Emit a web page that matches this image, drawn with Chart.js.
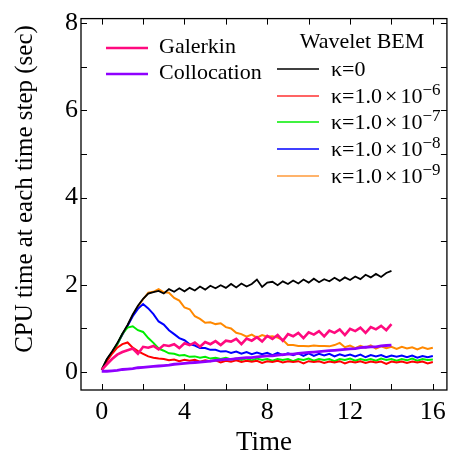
<!DOCTYPE html>
<html>
<head>
<meta charset="utf-8">
<script src="https://cdn.jsdelivr.net/npm/chart.js@4"></script>
<style>
  body { margin: 0; background: #fff; }
  canvas { display: block; }
</style>
</head>
<body>
<canvas id="grafico" width="453" height="457"></canvas>
<script>
// Tempo (passo 0.25)
const tempo16 = [0,0.25,0.5,0.75,1,1.25,1.5,1.75,2,2.25,2.5,2.75,3,3.25,3.5,3.75,4,4.25,4.5,4.75,5,5.25,5.5,5.75,6,6.25,6.5,6.75,7,7.25,7.5,7.75,8,8.25,8.5,8.75,9,9.25,9.5,9.75,10,10.25,10.5,10.75,11,11.25,11.5,11.75,12,12.25,12.5,12.75,13,13.25,13.5,13.75,14,14.25,14.5,14.75,15,15.25,15.5,15.75,16];
const tempo14 = tempo16.slice(0, 57);

// Wavelet BEM
const kappa0 = [0.05,0.3,0.47,0.66,0.88,1.08,1.32,1.52,1.68,1.8,1.83,1.86,1.8,1.9,1.84,1.92,1.85,1.93,1.87,1.96,1.89,1.98,1.92,1.99,1.93,2.02,1.94,2.03,1.96,2.02,2.12,1.95,2.05,2.07,1.99,2.08,2.02,2.1,2.03,2.12,2.05,2.14,2.06,2.13,2.08,2.16,2.09,2.17,2.11,2.19,2.13,2.23,2.17,2.25,2.18,2.27,2.32];
const kappa6 = [0.05,0.25,0.42,0.56,0.64,0.68,0.56,0.48,0.42,0.36,0.33,0.31,0.3,0.27,0.29,0.25,0.28,0.26,0.28,0.24,0.27,0.25,0.27,0.22,0.26,0.24,0.27,0.23,0.26,0.24,0.26,0.21,0.25,0.23,0.26,0.22,0.25,0.23,0.25,0.2,0.25,0.23,0.25,0.21,0.24,0.22,0.25,0.2,0.24,0.22,0.25,0.21,0.24,0.22,0.24,0.19,0.24,0.22,0.24,0.21,0.24,0.22,0.24,0.2,0.23];
const kappa7 = [0.05,0.28,0.45,0.64,0.88,1.02,1.05,0.96,0.92,0.78,0.67,0.54,0.49,0.43,0.42,0.38,0.39,0.35,0.36,0.33,0.35,0.31,0.33,0.3,0.33,0.29,0.31,0.28,0.31,0.27,0.31,0.28,0.3,0.26,0.3,0.28,0.3,0.25,0.3,0.28,0.31,0.26,0.3,0.28,0.3,0.25,0.3,0.28,0.31,0.26,0.3,0.27,0.3,0.26,0.31,0.28,0.3,0.26,0.3,0.27,0.31,0.26,0.3,0.28,0.29];
const kappa8 = [0.05,0.28,0.45,0.64,0.86,1.06,1.28,1.45,1.56,1.46,1.33,1.16,1.09,0.96,0.87,0.78,0.73,0.64,0.61,0.55,0.55,0.51,0.51,0.47,0.48,0.44,0.47,0.42,0.46,0.41,0.45,0.41,0.44,0.39,0.44,0.39,0.43,0.39,0.43,0.37,0.43,0.37,0.42,0.38,0.42,0.36,0.41,0.37,0.4,0.36,0.4,0.34,0.39,0.36,0.39,0.34,0.38,0.35,0.38,0.34,0.38,0.33,0.37,0.34,0.37];
const kappa9 = [0.05,0.28,0.45,0.64,0.86,1.06,1.3,1.5,1.67,1.82,1.84,1.9,1.83,1.82,1.7,1.64,1.48,1.44,1.28,1.22,1.13,1.14,1.1,1.12,1.03,1.0,0.9,0.87,0.81,0.86,0.79,0.85,0.81,0.82,0.79,0.74,0.62,0.62,0.6,0.6,0.59,0.61,0.6,0.6,0.59,0.62,0.67,0.57,0.61,0.55,0.6,0.56,0.61,0.54,0.59,0.55,0.58,0.53,0.58,0.54,0.57,0.52,0.57,0.53,0.56];

// Galerkin e Collocation
const galerkin = [0.05,0.18,0.3,0.4,0.46,0.5,0.54,0.42,0.58,0.56,0.6,0.52,0.62,0.6,0.64,0.55,0.66,0.62,0.68,0.58,0.69,0.64,0.71,0.62,0.72,0.7,0.76,0.64,0.77,0.72,0.8,0.7,0.83,0.76,0.85,0.72,0.87,0.82,0.9,0.78,0.91,0.86,0.94,0.82,0.95,0.9,0.98,0.85,0.99,0.94,1.02,0.9,1.03,0.98,1.06,0.96,1.1];
const collocation = [0.02,0.02,0.03,0.04,0.06,0.07,0.08,0.1,0.11,0.12,0.13,0.14,0.15,0.16,0.18,0.19,0.2,0.21,0.22,0.23,0.24,0.25,0.27,0.28,0.29,0.29,0.31,0.32,0.33,0.33,0.35,0.36,0.37,0.37,0.39,0.4,0.41,0.41,0.43,0.44,0.45,0.46,0.47,0.48,0.49,0.5,0.51,0.52,0.53,0.54,0.56,0.57,0.58,0.58,0.6,0.61,0.62];

// Ticks
const ticksX = [0, 4, 8, 12, 16];
const ticksY = [0, 2, 4, 6, 8];
const marcasX = [0, 2, 4, 6, 8, 10, 12, 14, 16];
const marcasY = [0, 1, 2, 3, 4, 5, 6, 7, 8];

const fonte = '"Liberation Serif", "Times New Roman", serif';

function pontos(tempos, valores) {
    return valores.map((v, i) => ({ x: tempos[i], y: v }));
}

function serie(label, tempos, valores, cor, largura) {
    return {
        label: label,
        data: pontos(tempos, valores),
        borderColor: cor,
        backgroundColor: cor,
        borderWidth: largura,
        pointRadius: 0,
        tension: 0,
        fill: false
    };
}

const legendaEsq = [
    { texto: 'Galerkin', cor: '#ff0a7f', y: 48 },
    { texto: 'Collocation', cor: '#8f00ff', y: 74 }
];
const legendaDir = [
    { texto: 'κ=0', exp: null, cor: '#000000', y: 69 },
    { texto: 'κ=1.0', exp: '−6', cor: '#ff3030', y: 96 },
    { texto: 'κ=1.0', exp: '−7', cor: '#00ee00', y: 122 },
    { texto: 'κ=1.0', exp: '−8', cor: '#0000ff', y: 149 },
    { texto: 'κ=1.0', exp: '−9', cor: '#ff9a3a', y: 176 }
];

// Plugin: moldura, ticks para dentro, titulo do eixo y e legenda
const molduraPlugin = {
    id: 'moldura',
    afterDraw(chart) {
        const ctx = chart.ctx;
        const area = chart.chartArea;
        const sx = chart.scales.x;
        const sy = chart.scales.y;
        ctx.save();
        ctx.strokeStyle = '#000';
        ctx.lineWidth = 1.3;
        ctx.strokeRect(area.left, area.top, area.right - area.left, area.bottom - area.top);
        ctx.lineWidth = 1;
        ctx.beginPath();
        marcasX.forEach(v => {
            const px = Math.round(sx.getPixelForValue(v)) + 0.5;
            ctx.moveTo(px, area.bottom); ctx.lineTo(px, area.bottom - 6);
            ctx.moveTo(px, area.top); ctx.lineTo(px, area.top + 6);
        });
        marcasY.forEach(v => {
            const py = Math.round(sy.getPixelForValue(v)) + 0.5;
            ctx.moveTo(area.left, py); ctx.lineTo(area.left + 6, py);
            ctx.moveTo(area.right, py); ctx.lineTo(area.right - 6, py);
        });
        ctx.stroke();

        // titulo do eixo y
        ctx.fillStyle = '#000';
        ctx.save();
        ctx.translate(25, 189);
        ctx.rotate(-Math.PI / 2);
        ctx.textAlign = 'center';
        ctx.textBaseline = 'middle';
        ctx.font = '25px ' + fonte;
        ctx.fillText('CPU time at each time step (sec)', 0, 0);
        ctx.restore();

        // legenda
        ctx.textBaseline = 'middle';
        ctx.font = '22px ' + fonte;
        legendaEsq.forEach(item => {
            ctx.strokeStyle = item.cor;
            ctx.lineWidth = 2.5;
            ctx.beginPath();
            ctx.moveTo(106, item.y); ctx.lineTo(148, item.y);
            ctx.stroke();
            ctx.fillText(item.texto, 159, item.y - 1);
        });
        ctx.textAlign = 'center';
        ctx.fillText('Wavelet BEM', 362, 42);
        ctx.textAlign = 'left';
        legendaDir.forEach(item => {
            ctx.strokeStyle = item.cor;
            ctx.lineWidth = 1.5;
            ctx.beginPath();
            ctx.moveTo(277, item.y); ctx.lineTo(319, item.y);
            ctx.stroke();
            ctx.font = '22px ' + fonte;
            ctx.fillText(item.texto, 331, item.y + 1);
            if (item.exp) {
                let x = 331 + ctx.measureText(item.texto).width + 3;
                ctx.fillText('×', x, item.y + 1);
                x += ctx.measureText('×').width + 3;
                ctx.fillText('10', x, item.y + 1);
                x += ctx.measureText('10').width;
                ctx.font = '17px ' + fonte;
                ctx.textBaseline = 'alphabetic';
                ctx.fillText(item.exp, x, item.y - 1);
                ctx.textBaseline = 'middle';
            }
        });
        ctx.restore();
    }
};

const ctx = document.getElementById('grafico');

new Chart(ctx, {
    type: 'line',
    data: {
        datasets: [
            serie('Collocation', tempo14, collocation, '#8f00ff', 2.8),
            serie('Galerkin', tempo14, galerkin, '#ff0a7f', 2.6),
            serie('κ=0', tempo14, kappa0, '#000000', 1.8),
            serie('κ=1.0×10^-6', tempo16, kappa6, '#ff0000', 2),
            serie('κ=1.0×10^-7', tempo16, kappa7, '#00ee00', 2),
            serie('κ=1.0×10^-8', tempo16, kappa8, '#0000ff', 2),
            serie('κ=1.0×10^-9', tempo16, kappa9, '#ff8800', 2)
        ]
    },
    options: {
        responsive: false,
        animation: false,
        layout: { padding: { top: 15, right: 4, left: 0, bottom: 0 } },
        plugins: {
            legend: { display: false },
            tooltip: { enabled: false }
        },
        scales: {
            x: {
                type: 'linear',
                min: -1,
                max: 16.68,
                grid: { display: false, drawTicks: false },
                border: { display: false },
                afterBuildTicks: s => { s.ticks = ticksX.map(v => ({ value: v })); },
                afterFit: s => { s.height = 67; },
                ticks: {
                    color: '#000',
                    padding: 7,
                    maxRotation: 0,
                    font: { family: fonte, size: 26 }
                },
                title: {
                    display: true,
                    text: 'Time',
                    color: '#000',
                    font: { family: fonte, size: 27, lineHeight: 1 },
                    padding: { top: 0, bottom: 1 }
                }
            },
            y: {
                type: 'linear',
                min: -0.41,
                max: 8.1,
                grid: { display: false, drawTicks: false },
                border: { display: false },
                afterBuildTicks: s => { s.ticks = ticksY.map(v => ({ value: v })); },
                afterFit: s => { s.width = 81; },
                ticks: {
                    color: '#000',
                    padding: 3,
                    font: { family: fonte, size: 26 }
                },
                title: { display: false }
            }
        }
    },
    plugins: [molduraPlugin]
});
</script>
</body>
</html>
